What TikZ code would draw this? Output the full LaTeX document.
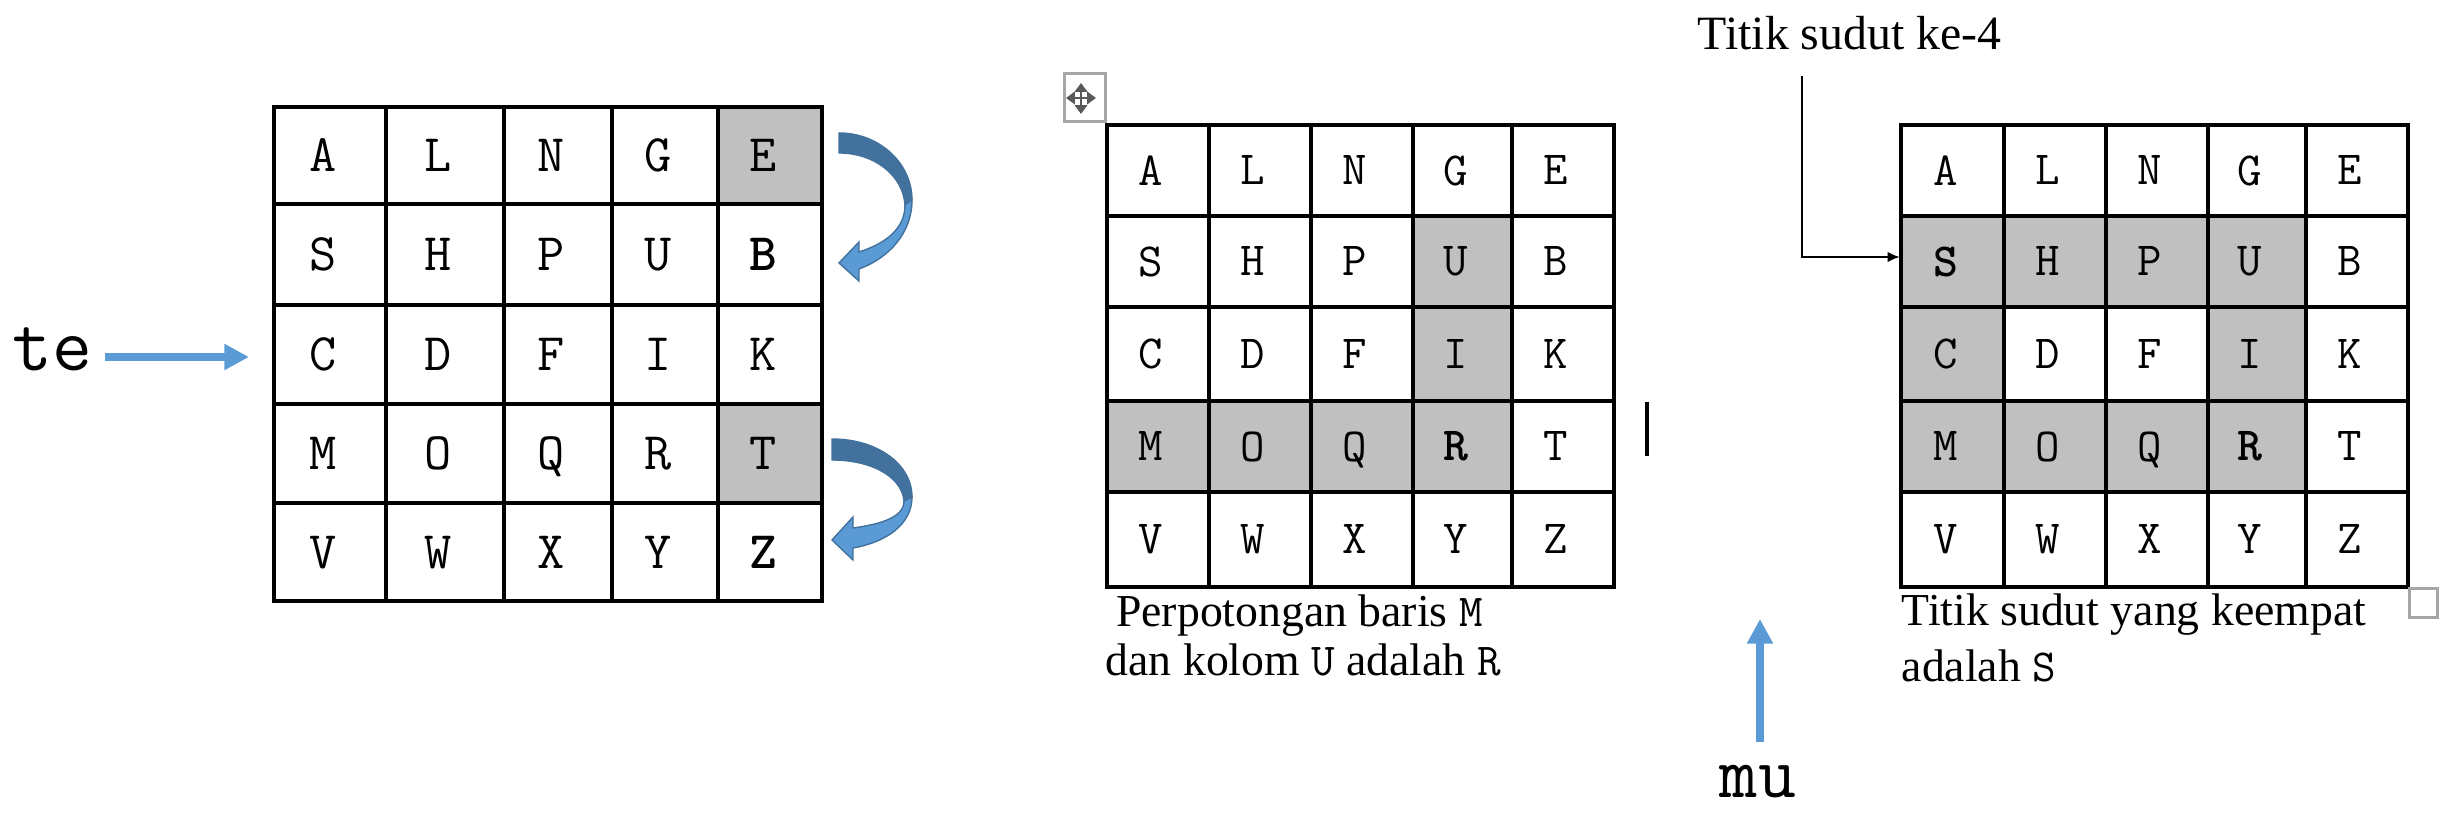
\documentclass[tikz,border=0pt]{standalone}
\usepackage{fontspec}
\setmainfont{Liberation Serif}
\usetikzlibrary{arrows.meta}

\definecolor{cellgray}{HTML}{C0C0C0}
\definecolor{arrowblue}{HTML}{5B9BD5}
\definecolor{arrowdark}{HTML}{41719C}
\definecolor{handlegray}{HTML}{A6A6A6}
\definecolor{crossgray}{HTML}{595959}

% one 5x5 key square: name, column edges, row edges, letter style, rows
\newcommand{\keysquare}[5]{%
	\foreach \rw/\row in {#5} {
		\foreach \ch [count=\cl] in \row {
			\pgfmathsetmacro{\xa}{{#2}[\cl-1]}
			\pgfmathsetmacro{\xb}{{#2}[\cl]}
			\pgfmathsetmacro{\ya}{{#3}[\rw-1]}
			\pgfmathsetmacro{\yb}{{#3}[\rw]}
			\draw[gridline] (\xa,\ya) rectangle (\xb,\yb);
			\node[letter,#4] (#1-\rw-\cl) at ({(\xa+\xb)/2-7},{(\ya+\yb)/2}) {\ch};
		}
	}
}

\begin{document}
\begin{tikzpicture}[
	x=0.01cm,
	y=-0.01cm,
	gridline/.style={
		draw=black,
		line width=1pt
	},
	letter/.style={
		font=\ttfamily\fontsize{13.5}{16}\selectfont,
		inner sep=0pt,
		text depth=0pt,
		anchor=center
	},
	bigletter/.style={
		font=\ttfamily\fontsize{15}{18}\selectfont
	},
	note/.style={
		font=\fontsize{13}{13.9}\selectfont,
		align=left
	},
	marker/.style={
		font=\ttfamily\fontsize{22}{26}\selectfont
	},
	bluearrow/.style={
		draw=arrowblue,
		line width=2.4pt,
		-{Triangle[length=7pt,width=7pt]}
	},
	leader/.style={
		draw=black,
		line width=0.7pt,
		-{Latex[length=3.5pt,width=3pt]}
	},
	backface/.style={
		fill=arrowdark,
		draw=arrowdark,
		line width=0.4pt
	},
	frontface/.style={
		fill=arrowblue,
		draw=arrowdark,
		line width=0.4pt
	},
	handlebox/.style={
		draw=handlegray,
		line width=0.85pt
	},
	crossarrow/.style={
		draw=crossgray,
		line width=0.7pt,
		{Triangle[length=2.5pt,width=3.5pt]}-{Triangle[length=2.5pt,width=3.5pt]}
	},
]

\useasboundingbox (0,0) rectangle (2441,819);

% shaded cells
\fill[cellgray] (718,107) rectangle (822,204);
\fill[cellgray] (718,404) rectangle (822,503);
\fill[cellgray] (1413,216) rectangle (1512,401);
\fill[cellgray] (1107,401) rectangle (1512,492);
\fill[cellgray] (1901,216) rectangle (2306,307);
\fill[cellgray] (1901,307) rectangle (2004,401);
\fill[cellgray] (2208,307) rectangle (2306,401);
\fill[cellgray] (1901,401) rectangle (2306,492);

% the three squares
\keysquare{a}{274,386,504,612,718,822}{107,204,305,404,503,601}{bigletter}{1/{A,L,N,G,E},2/{S,H,P,U,\textbf{B}},3/{C,D,F,I,K},4/{M,O,Q,R,T},5/{V,W,X,Y,\textbf{Z}}}
\keysquare{b}{1107,1209,1311,1413,1512,1614}{125,216,307,401,492,587}{}{1/{A,L,N,G,E},2/{S,H,P,U,B},3/{C,D,F,I,K},4/{M,O,Q,\textbf{R},T},5/{V,W,X,Y,Z}}
\keysquare{c}{1901,2004,2106,2208,2306,2408}{125,216,307,401,492,587}{}{1/{A,L,N,G,E},2/{\textbf{S},H,P,U,B},3/{C,D,F,I,K},4/{M,O,Q,\textbf{R},T},5/{V,W,X,Y,Z}}

% te
\node[marker, anchor=base west] (te) at (0,371) {te};
\coordinate (tehead) at (249,357);
\draw[bluearrow] (tehead -| te.east) -- (tehead);

% curved arrows
\begin{scope}[shift={(839,133)}]
	\filldraw[backface] (0,0) .. controls (40,0) and (73,30) .. (73,67) -- (66,72) .. controls (64,42) and (35,20) .. (0,20) -- cycle;
	\filldraw[frontface] (73,67) .. controls (73,100) and (50,125) .. (20,136) -- (20,148) -- (0,130) -- (20,109) -- (20,119) .. controls (48,110) and (66,95) .. (66,72) -- cycle;
\end{scope}
\begin{scope}[shift={(832,439)}]
	\filldraw[backface] (0,0) .. controls (45,0) and (80,25) .. (80,58) -- (72,62) .. controls (70,38) and (40,21) .. (0,21) -- cycle;
	\filldraw[frontface] (80,58) .. controls (80,85) and (55,103) .. (21,109) -- (21,121) -- (0,101) -- (21,78) -- (21,89) .. controls (50,85) and (72,78) .. (72,62) -- cycle;
\end{scope}

% table handle and cursor
\draw[handlebox] (1064,74) rectangle (1105,122);
\draw[crossarrow] (1066,98) -- (1096,98);
\draw[crossarrow] (1081,83) -- (1081,114);
\draw[line width=0.9pt] (1647,402) -- (1647,456);
\draw[handlebox] (2409,589) rectangle (2437,618);

% captions
\node[note, anchor=north west, inner sep=0pt] (cap2) at (1105,594) {\hspace*{3pt}Perpotongan baris \texttt{M}\\dan kolom \texttt{U} adalah \texttt{R}};
\node[note, anchor=north west, inner sep=0pt] (cap3) at (1901,593) {Titik sudut yang keempat\\[2pt]adalah \texttt{S}};

% corner label
\node[note, font=\fontsize{13.6}{15}\selectfont, anchor=base west, inner sep=0pt] (ke4) at (1697,50) {Titik sudut ke-4};
\coordinate (bend) at (1802,257);
\coordinate (cedge) at (1900,257);
\draw[leader, shorten <=7pt] (ke4.south -| bend) -- (bend) -- (cedge);

% mu
\node[marker, font=\ttfamily\fontsize{21}{24}\selectfont, anchor=base, inner sep=1pt] (mu) at (1758,798) {mu};
\coordinate (muhead) at (1760,619);
\draw[bluearrow, shorten <=5.5pt] (mu.north -| muhead) -- (muhead);

\end{tikzpicture}
\end{document}
